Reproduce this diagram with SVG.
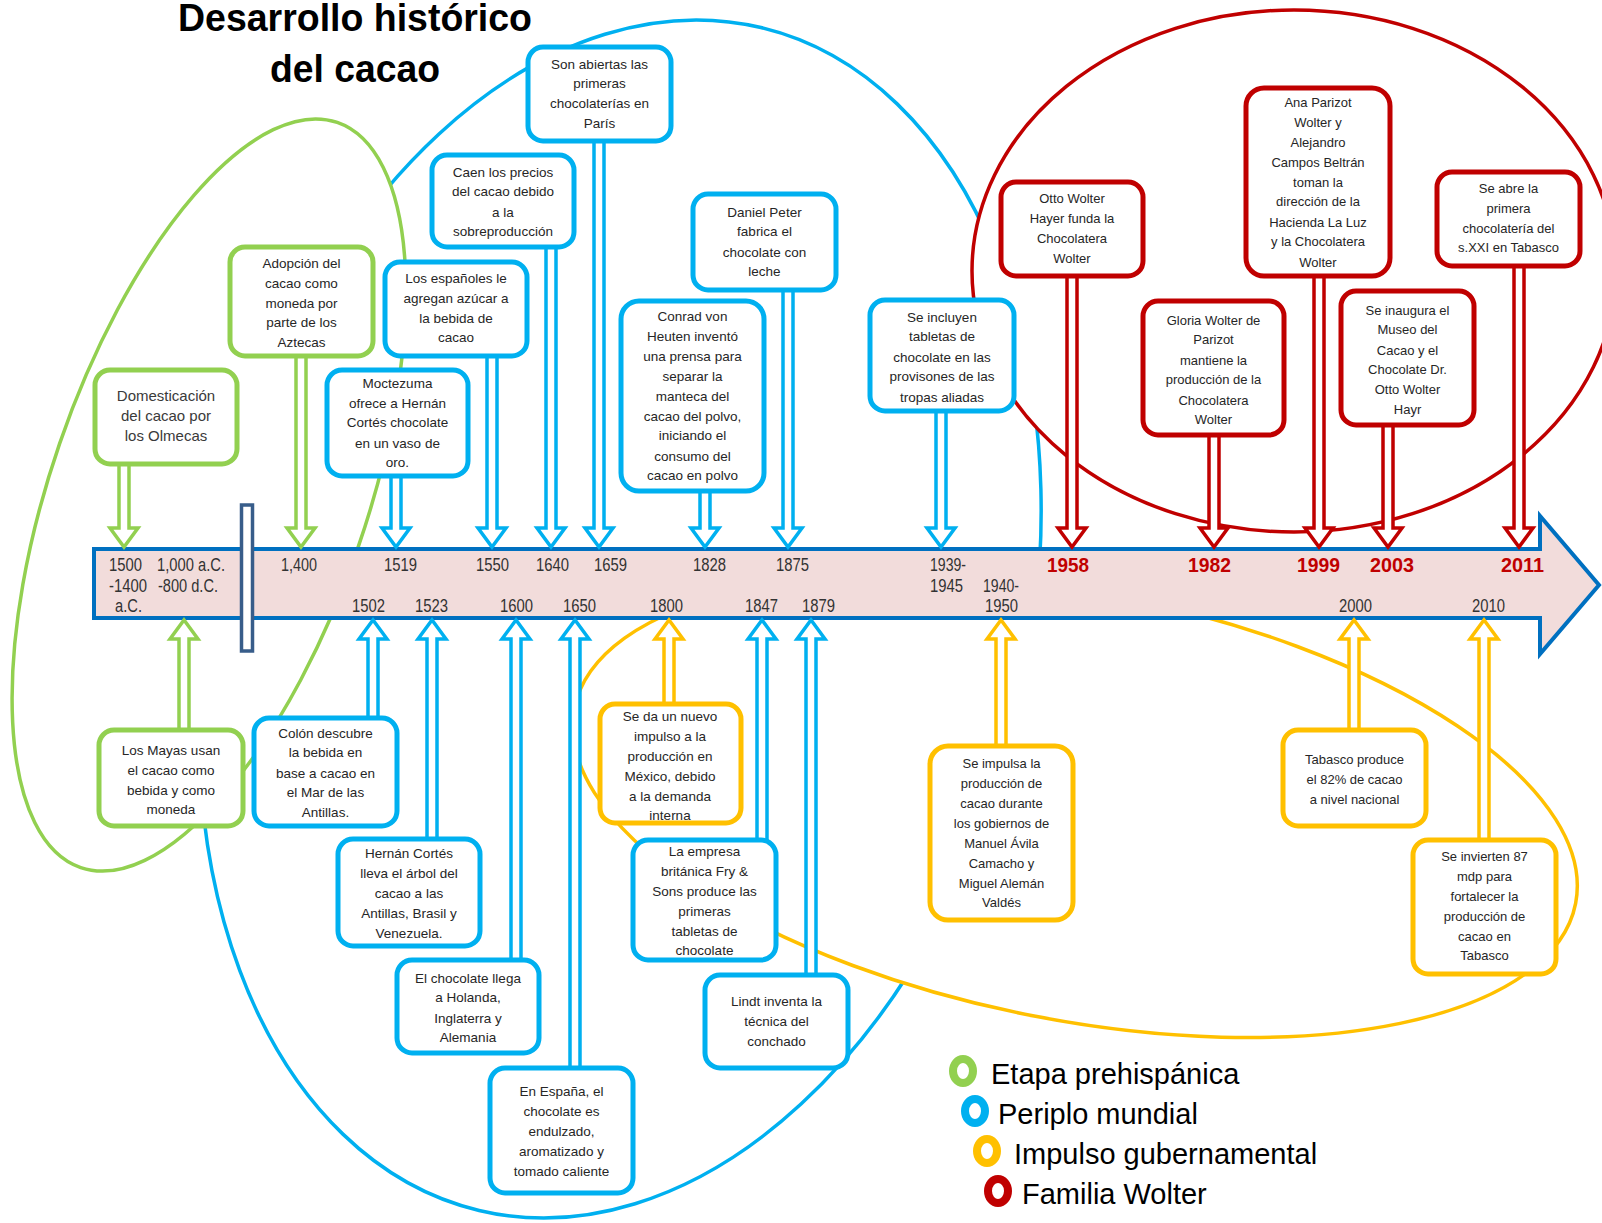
<svg xmlns="http://www.w3.org/2000/svg" width="1602" height="1223" viewBox="0 0 1602 1223">
<defs>
<style>
.el{fill:#fff;stroke-width:3.5}
.bx{fill:#fff;stroke-width:5}
.g{stroke:#92D050}.b{stroke:#00B0F0}.y{stroke:#FFC000}.r{stroke:#C00000}
.ar{fill:#fff;stroke-width:3.5;stroke-linejoin:miter}
.t{font-family:"Liberation Sans",Arial,sans-serif;font-size:13.5px;fill:#262626;text-anchor:middle}
.tr{font-family:"Liberation Sans",Arial,sans-serif;font-size:13px;fill:#262626;text-anchor:middle}
.t2{font-family:"Liberation Sans",Arial,sans-serif;font-size:15px;fill:#3a3a3a;text-anchor:middle}
.yr{font-family:"Liberation Sans",Arial,sans-serif;font-size:17.5px;fill:#333}
.yb{font-family:"Liberation Sans",Arial,sans-serif;font-size:21px;font-weight:bold;fill:#C00000}
.lg{font-family:"Liberation Sans",Arial,sans-serif;font-size:29px;fill:#000}
.ti{font-family:"Liberation Sans",Arial,sans-serif;font-size:38px;font-weight:bold;fill:#000;text-anchor:middle}
</style>
</defs>
<g id="groups">
<ellipse class="el b" cx="620" cy="619" rx="408" ry="608" transform="rotate(13.4 620 619)"/>
<ellipse class="el y" cx="1075" cy="806" rx="510" ry="214" transform="rotate(11 1075 806)" stroke-width="4"/>
<ellipse class="el g" cx="209" cy="495" rx="394" ry="158" transform="rotate(-71 209 495)"/>
<ellipse class="el r" cx="1294" cy="271" rx="322" ry="261"/>
</g>
<g id="timeline">
<path d="M94,549 H1540 V516 L1599,585 L1540,654 V618 H94 Z" fill="#F2DCDB" stroke="#0070C0" stroke-width="4" stroke-linejoin="miter"/>
<rect x="241.5" y="505" width="11" height="146" fill="#fff" stroke="#385D8A" stroke-width="3.5"/>
</g>
<g id="connectors">
<path class="ar g" d="M119,460 V528 H110 L124,547 L138,528 H129 V460"/>
<path class="ar g" d="M296,352 V528 H287 L301,547 L315,528 H306 V352"/>
<path class="ar b" d="M391,472 V528 H382 L396,547 L410,528 H401 V472"/>
<path class="ar b" d="M487,352 V528 H478 L492,547 L506,528 H497 V352"/>
<path class="ar b" d="M546,243 V528 H537 L551,547 L565,528 H556 V243"/>
<path class="ar b" d="M594,137 V528 H585 L599,547 L613,528 H604 V137"/>
<path class="ar b" d="M700,487 V528 H691 L705,547 L719,528 H710 V487"/>
<path class="ar b" d="M783,286 V528 H774 L788,547 L802,528 H793 V286"/>
<path class="ar b" d="M936,407 V528 H927 L941,547 L955,528 H946 V407"/>
<path class="ar r" d="M1067,272 V528 H1058 L1072,547 L1086,528 H1077 V272"/>
<path class="ar r" d="M1209,431 V528 H1200 L1214,547 L1228,528 H1219 V431"/>
<path class="ar r" d="M1314,272 V528 H1305 L1319,547 L1333,528 H1324 V272"/>
<path class="ar r" d="M1383,421 V528 H1374 L1388,547 L1402,528 H1393 V421"/>
<path class="ar r" d="M1514,262 V528 H1505 L1519,547 L1533,528 H1524 V262"/>
<path class="ar g" d="M179,734 V639 H170 L184,620 L198,639 H189 V734"/>
<path class="ar b" d="M368,722 V639 H359 L373,620 L387,639 H378 V722"/>
<path class="ar b" d="M427,843 V639 H418 L432,620 L446,639 H437 V843"/>
<path class="ar b" d="M511,964 V639 H502 L516,620 L530,639 H521 V964"/>
<path class="ar b" d="M570,1072 V639 H561 L575,620 L589,639 H580 V1072"/>
<path class="ar y" d="M664,708 V639 H655 L669,620 L683,639 H674 V708"/>
<path class="ar b" d="M757,844 V639 H748 L762,620 L776,639 H767 V844"/>
<path class="ar b" d="M806,979 V639 H797 L811,620 L825,639 H816 V979"/>
<path class="ar y" d="M996,750 V639 H987 L1001,620 L1015,639 H1006 V750"/>
<path class="ar y" d="M1349,734 V639 H1340 L1354,620 L1368,639 H1359 V734"/>
<path class="ar y" d="M1479,844 V639 H1470 L1484,620 L1498,639 H1489 V844"/>
</g>
<g id="years">
<text class="yr" x="109" y="571" textLength="33" lengthAdjust="spacingAndGlyphs">1500</text>
<text class="yr" x="157" y="571" textLength="68" lengthAdjust="spacingAndGlyphs">1,000 a.C.</text>
<text class="yr" x="281" y="571" textLength="36" lengthAdjust="spacingAndGlyphs">1,400</text>
<text class="yr" x="384" y="571" textLength="33" lengthAdjust="spacingAndGlyphs">1519</text>
<text class="yr" x="476" y="571" textLength="33" lengthAdjust="spacingAndGlyphs">1550</text>
<text class="yr" x="536" y="571" textLength="33" lengthAdjust="spacingAndGlyphs">1640</text>
<text class="yr" x="594" y="571" textLength="33" lengthAdjust="spacingAndGlyphs">1659</text>
<text class="yr" x="693" y="571" textLength="33" lengthAdjust="spacingAndGlyphs">1828</text>
<text class="yr" x="776" y="571" textLength="33" lengthAdjust="spacingAndGlyphs">1875</text>
<text class="yr" x="930" y="571" textLength="36" lengthAdjust="spacingAndGlyphs">1939-</text>
<text class="yr" x="109" y="592" textLength="38" lengthAdjust="spacingAndGlyphs">-1400</text>
<text class="yr" x="158" y="592" textLength="60" lengthAdjust="spacingAndGlyphs">-800 d.C.</text>
<text class="yr" x="930" y="592" textLength="33" lengthAdjust="spacingAndGlyphs">1945</text>
<text class="yr" x="983" y="592" textLength="36" lengthAdjust="spacingAndGlyphs">1940-</text>
<text class="yr" x="115" y="612" textLength="27" lengthAdjust="spacingAndGlyphs">a.C.</text>
<text class="yr" x="352" y="612" textLength="33" lengthAdjust="spacingAndGlyphs">1502</text>
<text class="yr" x="415" y="612" textLength="33" lengthAdjust="spacingAndGlyphs">1523</text>
<text class="yr" x="500" y="612" textLength="33" lengthAdjust="spacingAndGlyphs">1600</text>
<text class="yr" x="563" y="612" textLength="33" lengthAdjust="spacingAndGlyphs">1650</text>
<text class="yr" x="650" y="612" textLength="33" lengthAdjust="spacingAndGlyphs">1800</text>
<text class="yr" x="745" y="612" textLength="33" lengthAdjust="spacingAndGlyphs">1847</text>
<text class="yr" x="802" y="612" textLength="33" lengthAdjust="spacingAndGlyphs">1879</text>
<text class="yr" x="985" y="612" textLength="33" lengthAdjust="spacingAndGlyphs">1950</text>
<text class="yr" x="1339" y="612" textLength="33" lengthAdjust="spacingAndGlyphs">2000</text>
<text class="yr" x="1472" y="612" textLength="33" lengthAdjust="spacingAndGlyphs">2010</text>
<text class="yb" x="1047" y="572" textLength="42" lengthAdjust="spacingAndGlyphs">1958</text>
<text class="yb" x="1188" y="572" textLength="43" lengthAdjust="spacingAndGlyphs">1982</text>
<text class="yb" x="1297" y="572" textLength="43" lengthAdjust="spacingAndGlyphs">1999</text>
<text class="yb" x="1370" y="572" textLength="44" lengthAdjust="spacingAndGlyphs">2003</text>
<text class="yb" x="1501" y="572" textLength="43" lengthAdjust="spacingAndGlyphs">2011</text>
</g>
<g id="n-olmecas"><rect class="bx g" x="95" y="370" width="142" height="94" rx="15"/>
<text class="t2"><tspan x="166" y="401">Domesticación</tspan><tspan x="166" y="421">del cacao por</tspan><tspan x="166" y="441">los Olmecas</tspan></text></g>
<g id="n-aztecas"><rect class="bx g" x="230" y="247" width="143" height="109" rx="15"/>
<text class="t"><tspan x="301.5" y="268">Adopción del</tspan><tspan x="301.5" y="288">cacao como</tspan><tspan x="301.5" y="307.5">moneda por</tspan><tspan x="301.5" y="327">parte de los</tspan><tspan x="301.5" y="347">Aztecas</tspan></text></g>
<g id="n-moctezuma"><rect class="bx b" x="327" y="370" width="141" height="106" rx="15"/>
<text class="t"><tspan x="397.5" y="388">Moctezuma</tspan><tspan x="397.5" y="407.5">ofrece a Hernán</tspan><tspan x="397.5" y="427">Cortés chocolate</tspan><tspan x="397.5" y="447.5">en un vaso de</tspan><tspan x="397.5" y="467">oro.</tspan></text></g>
<g id="n-azucar"><rect class="bx b" x="385" y="262" width="142" height="94" rx="15"/>
<text class="t"><tspan x="456" y="283">Los españoles le</tspan><tspan x="456" y="302.5">agregan azúcar a</tspan><tspan x="456" y="323">la bebida de</tspan><tspan x="456" y="342">cacao</tspan></text></g>
<g id="n-precios"><rect class="bx b" x="432" y="155" width="142" height="92" rx="15"/>
<text class="t"><tspan x="503" y="177">Caen los precios</tspan><tspan x="503" y="196">del cacao debido</tspan><tspan x="503" y="216.5">a la</tspan><tspan x="503" y="236">sobreproducción</tspan></text></g>
<g id="n-paris"><rect class="bx b" x="528" y="47" width="143" height="94" rx="15"/>
<text class="t"><tspan x="599.5" y="68.5">Son abiertas las</tspan><tspan x="599.5" y="88">primeras</tspan><tspan x="599.5" y="108">chocolaterías en</tspan><tspan x="599.5" y="128">París</tspan></text></g>
<g id="n-peter"><rect class="bx b" x="693" y="194" width="143" height="96" rx="15"/>
<text class="t"><tspan x="764.5" y="216.5">Daniel Peter</tspan><tspan x="764.5" y="236">fabrica el</tspan><tspan x="764.5" y="256.5">chocolate con</tspan><tspan x="764.5" y="276">leche</tspan></text></g>
<g id="n-heuten"><rect class="bx b" x="621" y="301" width="143" height="190" rx="18"/>
<text class="t"><tspan x="692.5" y="321">Conrad von</tspan><tspan x="692.5" y="341">Heuten inventó</tspan><tspan x="692.5" y="361">una prensa para</tspan><tspan x="692.5" y="381">separar la</tspan><tspan x="692.5" y="400.5">manteca del</tspan><tspan x="692.5" y="421">cacao del polvo,</tspan><tspan x="692.5" y="440">iniciando el</tspan><tspan x="692.5" y="461">consumo del</tspan><tspan x="692.5" y="480">cacao en polvo</tspan></text></g>
<g id="n-tropas"><rect class="bx b" x="870" y="300" width="144" height="111" rx="15"/>
<text class="t"><tspan x="942" y="322">Se incluyen</tspan><tspan x="942" y="341">tabletas de</tspan><tspan x="942" y="362">chocolate en las</tspan><tspan x="942" y="381">provisones de las</tspan><tspan x="942" y="401.5">tropas aliadas</tspan></text></g>
<g id="n-1958"><rect class="bx r" x="1001" y="182" width="142" height="94" rx="15"/>
<text class="tr"><tspan x="1072" y="203">Otto Wolter</tspan><tspan x="1072" y="223">Hayer funda la</tspan><tspan x="1072" y="243">Chocolatera</tspan><tspan x="1072" y="262.5">Wolter</tspan></text></g>
<g id="n-1982"><rect class="bx r" x="1143" y="301" width="141" height="134" rx="15"/>
<text class="tr"><tspan x="1213.5" y="325">Gloria Wolter de</tspan><tspan x="1213.5" y="344">Parizot</tspan><tspan x="1213.5" y="365">mantiene la</tspan><tspan x="1213.5" y="384">producción de la</tspan><tspan x="1213.5" y="404.5">Chocolatera</tspan><tspan x="1213.5" y="424">Wolter</tspan></text></g>
<g id="n-1999"><rect class="bx r" x="1246" y="88" width="144" height="188" rx="18"/>
<text class="tr"><tspan x="1318" y="107">Ana Parizot</tspan><tspan x="1318" y="127">Wolter y</tspan><tspan x="1318" y="147">Alejandro</tspan><tspan x="1318" y="166.5">Campos Beltrán</tspan><tspan x="1318" y="187">toman la</tspan><tspan x="1318" y="206">dirección de la</tspan><tspan x="1318" y="227">Hacienda La Luz</tspan><tspan x="1318" y="246">y la Chocolatera</tspan><tspan x="1318" y="266.5">Wolter</tspan></text></g>
<g id="n-2003"><rect class="bx r" x="1341" y="291" width="133" height="134" rx="15"/>
<text class="tr"><tspan x="1407.5" y="315">Se inaugura el</tspan><tspan x="1407.5" y="334">Museo del</tspan><tspan x="1407.5" y="354.5">Cacao y el</tspan><tspan x="1407.5" y="374">Chocolate Dr.</tspan><tspan x="1407.5" y="394">Otto Wolter</tspan><tspan x="1407.5" y="414">Hayr</tspan></text></g>
<g id="n-2011"><rect class="bx r" x="1437" y="172" width="143" height="94" rx="15"/>
<text class="tr"><tspan x="1508.5" y="193">Se abre la</tspan><tspan x="1508.5" y="212.5">primera</tspan><tspan x="1508.5" y="233">chocolatería del</tspan><tspan x="1508.5" y="252">s.XXI en Tabasco</tspan></text></g>
<g id="n-mayas"><rect class="bx g" x="99" y="730" width="144" height="96" rx="15"/>
<text class="t"><tspan x="171" y="755">Los Mayas usan</tspan><tspan x="171" y="774.5">el cacao como</tspan><tspan x="171" y="795">bebida y como</tspan><tspan x="171" y="814">moneda</tspan></text></g>
<g id="n-colon"><rect class="bx b" x="254" y="718" width="143" height="108" rx="15"/>
<text class="t"><tspan x="325.5" y="737.5">Colón descubre</tspan><tspan x="325.5" y="757">la bebida en</tspan><tspan x="325.5" y="777.5">base a cacao en</tspan><tspan x="325.5" y="797">el Mar de las</tspan><tspan x="325.5" y="817">Antillas.</tspan></text></g>
<g id="n-arbol"><rect class="bx b" x="338" y="839" width="142" height="107" rx="15"/>
<text class="t"><tspan x="409" y="858">Hernán Cortés</tspan><tspan x="409" y="877.5">lleva el árbol del</tspan><tspan x="409" y="898">cacao a las</tspan><tspan x="409" y="917.5">Antillas, Brasil y</tspan><tspan x="409" y="938">Venezuela.</tspan></text></g>
<g id="n-holanda"><rect class="bx b" x="397" y="960" width="142" height="93" rx="15"/>
<text class="t"><tspan x="468" y="983">El chocolate llega</tspan><tspan x="468" y="1002">a Holanda,</tspan><tspan x="468" y="1022.5">Inglaterra y</tspan><tspan x="468" y="1042">Alemania</tspan></text></g>
<g id="n-espana"><rect class="bx b" x="490" y="1068" width="143" height="125" rx="15"/>
<text class="t"><tspan x="561.5" y="1096">En España, el</tspan><tspan x="561.5" y="1116">chocolate es</tspan><tspan x="561.5" y="1136">endulzado,</tspan><tspan x="561.5" y="1156">aromatizado y</tspan><tspan x="561.5" y="1176">tomado caliente</tspan></text></g>
<g id="n-1800"><rect class="bx y" x="600" y="704" width="141" height="119" rx="15"/>
<text class="t"><tspan x="670" y="721">Se da un nuevo</tspan><tspan x="670" y="741">impulso a la</tspan><tspan x="670" y="761">producción en</tspan><tspan x="670" y="780.5">México, debido</tspan><tspan x="670" y="801">a la demanda</tspan><tspan x="670" y="820">interna</tspan></text></g>
<g id="n-fry"><rect class="bx b" x="633" y="840" width="143" height="120" rx="15"/>
<text class="t"><tspan x="704.5" y="856">La empresa</tspan><tspan x="704.5" y="875.5">británica Fry &amp;</tspan><tspan x="704.5" y="896">Sons produce las</tspan><tspan x="704.5" y="915.5">primeras</tspan><tspan x="704.5" y="936">tabletas de</tspan><tspan x="704.5" y="955">chocolate</tspan></text></g>
<g id="n-lindt"><rect class="bx b" x="705" y="975" width="143" height="93" rx="15"/>
<text class="t"><tspan x="776.5" y="1006">Lindt inventa la</tspan><tspan x="776.5" y="1026">técnica del</tspan><tspan x="776.5" y="1046">conchado</tspan></text></g>
<g id="n-gobiernos"><rect class="bx y" x="930" y="746" width="143" height="174" rx="18"/>
<text class="tr"><tspan x="1001.5" y="768">Se impulsa la</tspan><tspan x="1001.5" y="788">producción de</tspan><tspan x="1001.5" y="808">cacao durante</tspan><tspan x="1001.5" y="827.5">los gobiernos de</tspan><tspan x="1001.5" y="848">Manuel Ávila</tspan><tspan x="1001.5" y="867.5">Camacho y</tspan><tspan x="1001.5" y="888">Miguel Alemán</tspan><tspan x="1001.5" y="907">Valdés</tspan></text></g>
<g id="n-2000"><rect class="bx y" x="1283" y="730" width="143" height="96" rx="15"/>
<text class="tr"><tspan x="1354.5" y="764">Tabasco produce</tspan><tspan x="1354.5" y="783.5">el 82% de cacao</tspan><tspan x="1354.5" y="804">a nivel nacional</tspan></text></g>
<g id="n-2010"><rect class="bx y" x="1413" y="840" width="143" height="134" rx="15"/>
<text class="tr"><tspan x="1484.5" y="861">Se invierten 87</tspan><tspan x="1484.5" y="880.5">mdp para</tspan><tspan x="1484.5" y="901">fortalecer la</tspan><tspan x="1484.5" y="920.5">producción de</tspan><tspan x="1484.5" y="941">cacao en</tspan><tspan x="1484.5" y="960">Tabasco</tspan></text></g>
<g id="title">
<text class="ti" x="355" y="31" textLength="354" lengthAdjust="spacingAndGlyphs">Desarrollo histórico</text>
<text class="ti" x="355" y="82" textLength="170" lengthAdjust="spacingAndGlyphs">del cacao</text>
</g>
<g id="legend">
<ellipse cx="963" cy="1071" rx="10" ry="12" fill="#fff" stroke="#92D050" stroke-width="8"/>
<ellipse cx="975" cy="1111" rx="10" ry="12" fill="#fff" stroke="#00B0F0" stroke-width="8"/>
<ellipse cx="987" cy="1151" rx="10" ry="12" fill="#fff" stroke="#FFC000" stroke-width="8"/>
<ellipse cx="998" cy="1191" rx="10" ry="12" fill="#fff" stroke="#C00000" stroke-width="8"/>
<text class="lg" x="991" y="1084">Etapa prehispánica</text>
<text class="lg" x="998" y="1124">Periplo mundial</text>
<text class="lg" x="1014" y="1164">Impulso gubernamental</text>
<text class="lg" x="1022" y="1204">Familia Wolter</text>
</g>
</svg>
